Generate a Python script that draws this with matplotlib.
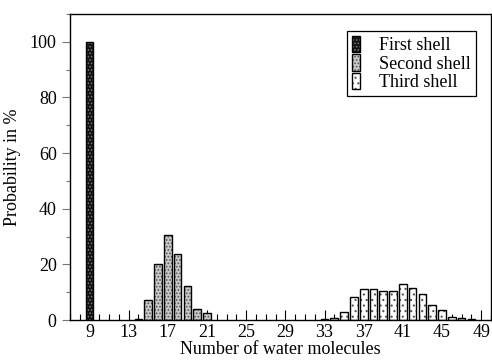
import matplotlib
matplotlib.use("Agg")
import matplotlib.pyplot as plt
from matplotlib.patches import Patch
from matplotlib.ticker import MultipleLocator

# data
first_x = [9]
first_p = [100.0]
second_x = [14, 15, 16, 17, 18, 19, 20, 21]
second_p = [0.3, 7.2, 20.2, 30.5, 23.8, 12.3, 3.8, 2.6]
third_x = [33, 34, 35, 36, 37, 38, 39, 40, 41, 42, 43, 44, 45, 46, 47, 48]
third_p = [0.2, 0.8, 3.0, 8.2, 11.1, 11.1, 10.4, 10.6, 13.0, 11.6, 9.3, 5.4, 3.6, 1.0, 0.7, 0.2]
tick_labels = list(range(9, 50, 4))

plt.rcParams['font.family'] = ['Liberation Serif', 'DejaVu Serif']
plt.rcParams['hatch.linewidth'] = 0.8

fig = plt.figure(figsize=(4.92, 3.6), dpi=100, facecolor='white')
ax = fig.add_axes([0.142, 0.111, 0.856, 0.850])

styles = [
    (first_x, first_p, '#111111', '#777777', '.....', 'First shell'),
    (second_x, second_p, '#c8c8c8', '#555555', '.....', 'Second shell'),
    (third_x, third_p, 'white', '#555555', '...', 'Third shell'),
]
handles = []
for xs, ps, fc, hc, hatch, name in styles:
    ax.bar(xs, ps, width=0.78, color=fc, edgecolor=hc, hatch=hatch, linewidth=0, zorder=2)
    ax.bar(xs, ps, width=0.78, fill=False, edgecolor='black', linewidth=1.0, zorder=3)
    handles.append(Patch(facecolor=fc, edgecolor=hc, hatch=hatch, linewidth=0))

outline = Patch(fill=False, edgecolor='black', linewidth=1.0)
leg = ax.legend([(h, outline) for h in handles], [s[5] for s in styles],
                loc='upper right', bbox_to_anchor=(0.985, 0.975), fontsize=13,
                handlelength=0.45, handleheight=1.0, handletextpad=1.0,
                labelspacing=0.0, borderpad=0.3, fancybox=False, framealpha=1,
                edgecolor='black')
leg.get_frame().set_linewidth(0.9)

ax.set_xlim(7, 50)
ax.set_ylim(0, 110)
ax.set_xticks(tick_labels)
ax.xaxis.set_minor_locator(MultipleLocator(1))
ax.set_yticks(range(0, 101, 20))
ax.yaxis.set_minor_locator(MultipleLocator(10))
ax.tick_params(axis='x', which='major', direction='in', length=7, width=0.8, labelsize=13, pad=3)
ax.tick_params(axis='x', which='minor', direction='in', length=4, width=0.8)
ax.tick_params(axis='y', which='major', direction='out', length=6, width=0.8, labelsize=13, color='#777777')
ax.tick_params(axis='y', which='minor', direction='out', length=3, width=0.8, color='#777777')
for sp in ax.spines.values():
    sp.set_linewidth(1.0)

ax.set_xlabel('Number of water molecules', fontsize=13, labelpad=0)
ax.set_ylabel('Probability in %', fontsize=13, labelpad=6)

fig.savefig('out.png', dpi=100)
